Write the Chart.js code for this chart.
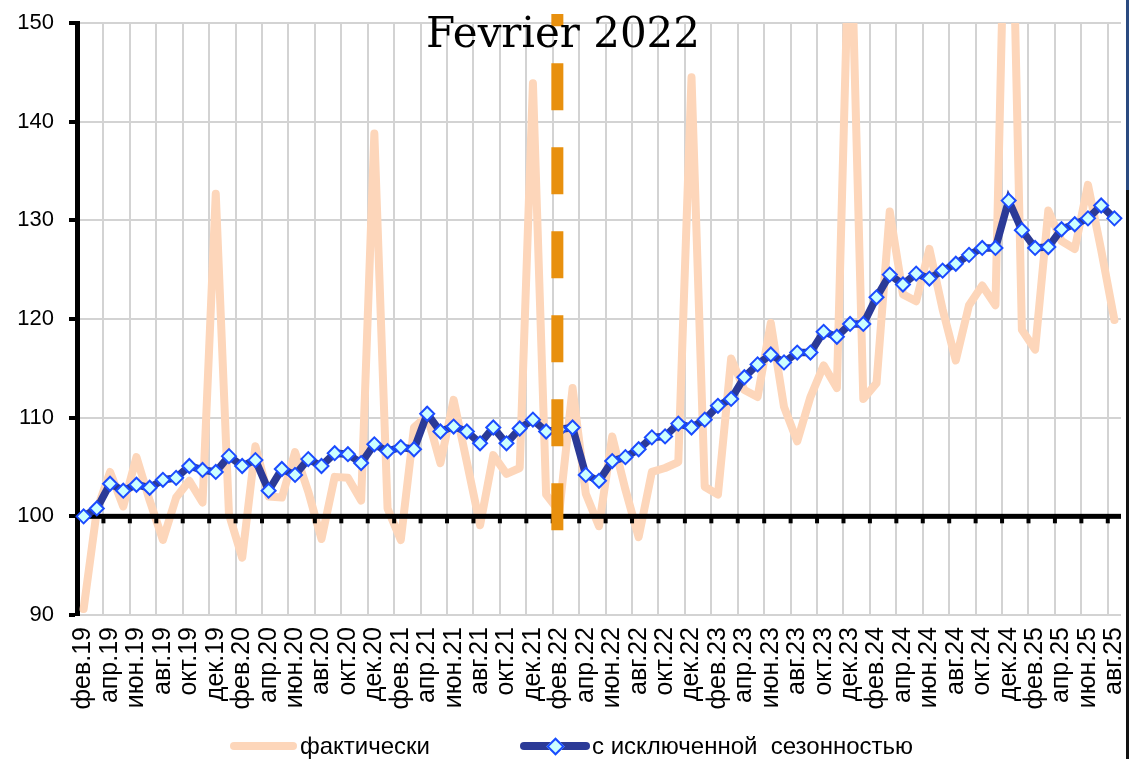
<!DOCTYPE html>
<html>
<head>
<meta charset="utf-8">
<script src="https://cdn.jsdelivr.net/npm/chart.js@4.4.1/dist/chart.umd.min.js"></script>
<style>
  body { margin: 0; background: #fff; }
  #wrap { position: relative; width: 1130px; height: 759px; overflow: hidden; }
  #title { position: absolute; left: 363px; width: 400px; top: 12px; text-align: center;
           font: 42px/42px "DejaVu Serif", serif; color: #000; }
  .lg { position: absolute; font: 24px/24px "Liberation Sans", Arial, sans-serif; color: #000; white-space: pre; top: 734px; }
  .sample { position: absolute; height: 8px; border-radius: 4px; top: 742px; }
  #dia { position: absolute; width: 9px; height: 9px; left: 549px; top: 740px; transform: rotate(45deg);
         background: #ccffff; border: 2px solid #1a4bff; }
  #edge { position: absolute; left: 1126px; top: 0; width: 3px; height: 759px;
          background: linear-gradient(#2a4a80 0 190px, #111 190px); }
</style>
</head>
<body>
<div id="wrap">
  <canvas id="chart" width="1130" height="759"></canvas>
  <div id="title">Fevrier 2022</div>
  <div class="sample" style="left:230px;width:67px;background:#fdd6ba"></div>
  <div class="lg" style="left:300px">фактически</div>
  <div class="sample" style="left:520px;width:70px;background:#2b3a97"></div>
  <div id="dia"></div>
  <div class="lg" style="left:592px">с исключенной  сезонностью</div>
  <div id="edge"></div>
</div>
<script>
// ------------------- data -------------------
const months = [
  "фев.19","мар.19","апр.19","май.19","июн.19","июл.19","авг.19","сен.19","окт.19","ноя.19","дек.19",
  "янв.20","фев.20","мар.20","апр.20","май.20","июн.20","июл.20","авг.20","сен.20","окт.20","ноя.20","дек.20",
  "янв.21","фев.21","мар.21","апр.21","май.21","июн.21","июл.21","авг.21","сен.21","окт.21","ноя.21","дек.21",
  "янв.22","фев.22","мар.22","апр.22","май.22","июн.22","июл.22","авг.22","сен.22","окт.22","ноя.22","дек.22",
  "янв.23","фев.23","мар.23","апр.23","май.23","июн.23","июл.23","авг.23","сен.23","окт.23","ноя.23","дек.23",
  "янв.24","фев.24","мар.24","апр.24","май.24","июн.24","июл.24","авг.24","сен.24","окт.24","ноя.24","дек.24",
  "янв.25","фев.25","мар.25","апр.25","май.25","июн.25","июл.25","авг.25"
];

// фактически
const actual = [
  90.6, 100.6, 104.5, 101.0, 106.0, 101.6, 97.6, 101.9, 103.6, 101.4, 132.7,
  100.2, 95.8, 107.1, 102.0, 101.9, 106.5, 102.5, 97.7, 104.0, 103.9, 101.6, 138.8,
  100.8, 97.6, 109.0, 110.2, 105.4, 111.8, 105.5, 99.1, 106.2, 104.3, 104.9, 143.9,
  102.2, 100.5, 113.0, 102.3, 99.0, 108.1, 102.7, 97.9, 104.5, 104.9, 105.5, 144.5,
  103.0, 102.2, 116.0, 112.8, 112.1, 119.6, 111.1, 107.6, 112.1, 115.3, 113.0, 163.0,
  111.9, 113.5, 130.9, 122.5, 121.8, 127.1, 121.0, 115.8, 121.4, 123.4, 121.4, 180.0,
  118.9, 116.9, 131.0, 127.9, 127.1, 133.6, 127.0, 119.9
];

// с исключенной сезонностью
const seasAdj = [
  100.0, 100.8, 103.3, 102.6, 103.2, 102.9, 103.7, 103.9, 105.1, 104.7, 104.5,
  106.1, 105.1, 105.7, 102.6, 104.8, 104.2, 105.8, 105.1, 106.4, 106.3, 105.4, 107.3,
  106.6, 107.0, 106.8, 110.4, 108.6, 109.1, 108.6, 107.4, 109.0, 107.4, 108.9, 109.8,
  108.6, 108.8, 109.0, 104.2, 103.6, 105.6, 106.0, 106.8, 108.0, 108.1, 109.4, 109.0,
  109.8, 111.2, 111.9, 114.1, 115.4, 116.4, 115.6, 116.6, 116.6, 118.7, 118.2, 119.5,
  119.5, 122.2, 124.5, 123.5, 124.6, 124.1, 124.9, 125.6, 126.5, 127.2, 127.2, 132.0,
  129.0, 127.2, 127.3, 129.1, 129.6, 130.2, 131.5, 130.2
];

const marker = "фев.22";   // dashed line
const baseLine = 100;

// ------------------- extras drawn on the scales -------------------
const extras = {
  id: "extras",
  beforeDatasetDraw(chart, args) {
    if (args.index !== 0) return;   // right before the blue line
    const { ctx, chartArea, scales: { x, y } } = chart;
    const y100 = y.getPixelForValue(baseLine);
    ctx.save();
    ctx.fillStyle = "#000";
    ctx.fillRect(chartArea.left, y100 - 2.5, chartArea.right - chartArea.left, 5);
    for (let i = 2; i < months.length; i += 2) {
      const gx = (x.getPixelForValue(i - 1) + x.getPixelForValue(i)) / 2;
      ctx.fillRect(gx - 2, y100, 4, 7);
    }
    ctx.restore();
  },
  afterDatasetsDraw(chart) {
    const { ctx, scales: { x, y } } = chart;
    const mx = x.getPixelForValue(months.indexOf(marker)) - 2;
    ctx.save();
    ctx.strokeStyle = "#e8900e";
    ctx.lineWidth = 12;
    ctx.setLineDash([47, 37]);
    ctx.beginPath();
    ctx.moveTo(mx, y.getPixelForValue(98.6));
    ctx.lineTo(mx, y.getPixelForValue(150.9));
    ctx.stroke();
    ctx.restore();
  }
};

new Chart(document.getElementById("chart"), {
  type: "line",
  data: {
    labels: months,
    datasets: [
      {
        label: "с исключенной  сезонностью",
        data: seasAdj,
        order: 0,
        borderColor: "#2b3a97",
        borderWidth: 7.5,
        tension: 0,
        pointStyle: "rectRot",
        pointRadius: 7,
        pointBackgroundColor: "#ccffff",
        pointBorderColor: "#1a4bff",
        pointBorderWidth: 2
      },
      {
        label: "фактически",
        data: actual,
        order: 1,
        borderColor: "#fdd6ba",
        borderWidth: 8,
        borderJoinStyle: "round",
        borderCapStyle: "round",
        tension: 0,
        pointRadius: 0
      }
    ]
  },
  options: {
    responsive: false,
    animation: false,
    layout: { padding: { left: 0, right: 9, top: 23, bottom: 0 } },
    plugins: { legend: { display: false }, tooltip: { enabled: false } },
    scales: {
      x: {
        offset: true,
        border: { display: false },
        grid: {
          offset: true,
          drawTicks: false,
          lineWidth: 2,
          color: c => (c.index > 0 && c.index % 2 === 0) ? "#d3d3d3" : "rgba(0,0,0,0)"
        },
        ticks: {
          autoSkip: false,
          minRotation: 90,
          maxRotation: 90,
          padding: 12,
          color: "#000",
          font: { family: "Liberation Sans", size: 25 },
          callback: (v, i) => i % 2 === 0 ? months[i] : ""
        },
        afterFit: s => { s.height = 144; s.paddingLeft = 0; s.paddingRight = 0; }
      },
      y: {
        min: 90,
        max: 150,
        border: { color: "#000", width: 5 },
        grid: {
          color: c => c.tick.value === baseLine ? "#000" : "#d3d3d3",
          lineWidth: 2,
          tickColor: "#000",
          tickWidth: 4,
          tickLength: 8
        },
        ticks: {
          stepSize: 10,
          padding: 15,
          color: "#000",
          font: { family: "Liberation Sans", size: 22 }
        },
        afterFit: s => { s.width = 77; s.paddingTop = 0; s.paddingBottom = 0; }
      }
    }
  },
  plugins: [extras]
});
</script>
</body>
</html>
